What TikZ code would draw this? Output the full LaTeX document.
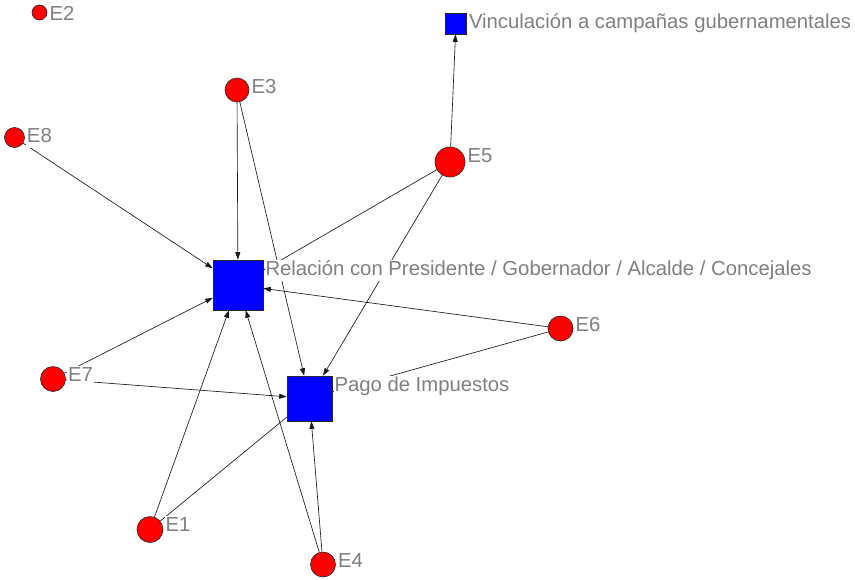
\documentclass[tikz,border=0pt]{standalone}
\usepackage{fontspec}
\setmainfont{Liberation Sans}
\usetikzlibrary{arrows.meta}
\definecolor{nred}{RGB}{255,0,0}
\definecolor{nblue}{RGB}{0,0,255}
\definecolor{lgray}{RGB}{128,128,128}
\begin{document}
\begin{tikzpicture}[x=1pt,y=-1pt,
 actor/.style={circle,fill=nred,draw=black!85,line width=0.6pt,inner sep=0pt,minimum size=#1},
 attr/.style={rectangle,fill=nblue,draw=black!85,line width=0.6pt,inner sep=0pt,minimum size=#1},
 lab/.style={anchor=north west,fill=white,inner sep=1pt,text height=14.5pt,text depth=4.5pt,text=lgray,font=\fontsize{20.3}{22}\selectfont},
 tie/.style={-{Triangle[length=7.5pt,width=5pt]},line width=0.65pt,draw=black!90},
 plaintie/.style={line width=0.65pt,draw=black!90}]
\useasboundingbox (0,0) rectangle (855,579);
% nodes
\node[actor=15pt] (E2) at (39.5,12.5) {};
\node[attr=21pt] (V) at (456,23.5) {};
\node[actor=24pt] (E3) at (237,90) {};
\node[actor=20pt] (E8) at (14.5,137.5) {};
\node[actor=30pt] (E5) at (450,162) {};
\node[attr=50pt] (R) at (238,285) {};
\node[actor=25pt] (E6) at (560.5,328.5) {};
\node[actor=25pt] (E7) at (53,379) {};
\node[attr=45pt] (P) at (309.5,398.5) {};
\node[actor=26pt] (E1) at (150,529.5) {};
\node[actor=25pt] (E4) at (323,564.5) {};
% ties
\draw[tie] (E5) -- (V);
\draw[tie] (E3) -- (R);
\draw[tie] (E3) -- (P);
\draw[tie] (E8) -- (R);
\draw[tie] (E5) -- (R);
\draw[tie] (E5) -- (P);
\draw[tie] (E6) -- (R);
\draw[tie] (E6) -- (P);
\draw[tie] (E7) -- (R);
\draw[tie] (E7) -- (P);
\draw[tie] (E1) -- (R);
\draw[plaintie] (E1) -- (P);
\draw[tie] (E4) -- (R);
\draw[tie] (E4) -- (P);
% labels
\node[lab] (lE2) at ([xshift=1pt]E2.east |- E2.north) {E2};
\node[lab] (lV) at ([xshift=1pt]V.north east) {Vinculación a campañas gubernamentales};
\node[lab] (lE3) at ([xshift=1pt]E3.east |- E3.north) {E3};
\node[lab] (lE8) at ([xshift=1pt]E8.east |- E8.north) {E8};
\node[lab] (lE5) at ([xshift=1pt]E5.east |- E5.north) {E5};
\node[lab] (lR) at ([xshift=1pt]R.north east) {Relación con Presidente / Gobernador / Alcalde / Concejales};
\node[lab] (lE6) at ([xshift=1pt]E6.east |- E6.north) {E6};
\node[lab] (lE7) at ([xshift=1pt]E7.east |- E7.north) {E7};
\node[lab] (lP) at ([xshift=1pt]P.north east) {Pago de Impuestos};
\node[lab] (lE1) at ([xshift=1pt]E1.east |- E1.north) {E1};
\node[lab] (lE4) at ([xshift=1pt]E4.east |- E4.north) {E4};
\end{tikzpicture}
\end{document}
